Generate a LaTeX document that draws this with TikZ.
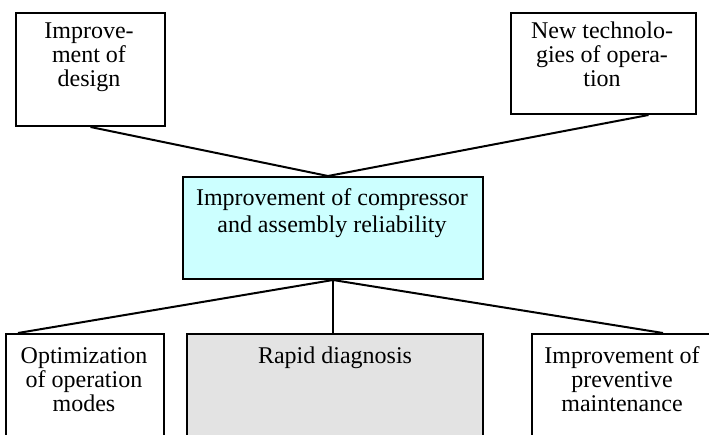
\documentclass[tikz,border=0pt]{standalone}
\usepackage{fontspec}
\setmainfont{Liberation Serif}
\definecolor{mainfill}{RGB}{204,255,255}
\definecolor{diagfill}{RGB}{227,227,227}
\tikzset{
  box/.style={draw=black,line width=2pt,inner sep=0pt,anchor=north west},
  txt/.style={font=\fontsize{24}{23.8}\selectfont,align=center,anchor=base,inner sep=0pt},
  link/.style={black,line width=2pt},
}

\begin{document}
\begin{tikzpicture}[x=1pt,y=-1pt]
  \useasboundingbox (0,0) rectangle (709,434);
  \clip (0,0) rectangle (709,434);

  \node[box, minimum width=149pt, minimum height=113pt] (design) at (15,12) {};
  \node[box, minimum width=185pt, minimum height=101pt] (newtech) at (510,12) {};
  \node[box, fill=mainfill, minimum width=300pt, minimum height=102pt] (main) at (182,176) {};
  \node[box, minimum width=158pt, minimum height=130pt] (modes) at (5,333) {};
  \node[box, fill=diagfill, minimum width=296pt, minimum height=130pt] (diag) at (186,333) {};
  \node[box, minimum width=200pt, minimum height=130pt] (maint) at (531,333) {};

  % text placed at the baseline of its last line
  \node[txt] (design-t) at (89,86) {Improve-\\ment of\\design};
  \node[txt] (newtech-t) at (602,86) {New technolo-\\gies of opera-\\tion};
  \node[txt, font=\fontsize{24}{27}\selectfont] (main-t) at (332,232) {Improvement of compressor\\and assembly reliability};
  \node[txt, font=\fontsize{24}{24}\selectfont] (modes-t) at (84,411) {Optimization\\of operation\\modes};
  \node[txt] (diag-t) at (335,363) {Rapid diagnosis};
  \node[txt, font=\fontsize{24}{24}\selectfont] (maint-t) at (622,411) {Improvement of\\preventive\\maintenance};

  \draw[link] (design.south) -- ([xshift=-5pt]main.north);
  \draw[link] ([xshift=45pt]newtech.south) -- ([xshift=-5pt]main.north);
  \draw[link] (main.south) -- ([xshift=13pt]modes.north west);
  \draw[link] (main.south) -- (main.south |- diag.north);
  \draw[link] (main.south) -- ([xshift=132pt]maint.north west);
\end{tikzpicture}
\end{document}
